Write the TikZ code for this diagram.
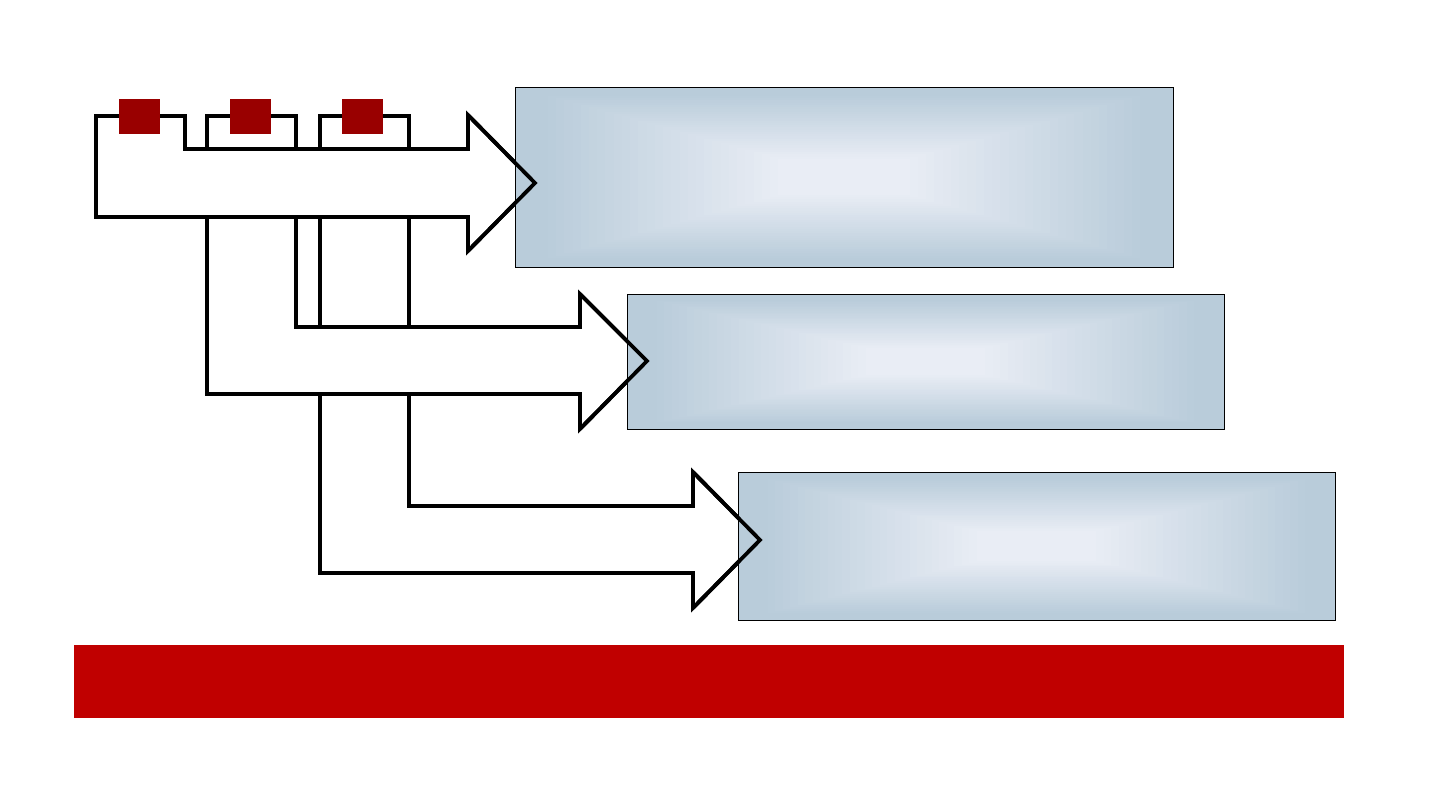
\documentclass[tikz,border=0pt]{standalone}
\usetikzlibrary{calc}
\definecolor{boxout}{RGB}{185,204,218}
\definecolor{boxin}{RGB}{233,237,245}
\definecolor{sqred}{RGB}{153,0,0}
\definecolor{barred}{RGB}{192,0,0}
\tikzset{
  bendarrow/.style={draw=black, line width=3.8pt, fill=white, miter limit=10},
  headline/.style={draw=black, line width=3.8pt, miter limit=10},
  panel/.style={draw=black, line width=0.8pt, fill=boxout, rectangle, inner sep=0pt, outer sep=0pt},
  tag/.style={fill=sqred, rectangle, inner sep=0pt, outer sep=0pt, minimum width=41pt, minimum height=35pt},
  band/.style={fill=barred, rectangle, inner sep=0pt, outer sep=0pt},
}
\newcommand{\glowpanel}[1]{%
  \foreach \i in {1,...,40}{%
    \pgfmathsetmacro{\s}{\i/40}%
    \pgfmathsetmacro{\p}{min(100,max(0,(\s-0.08)/0.72*100))}%
    \colorlet{glowcur}{boxin!\p!boxout}%
    \fill[glowcur] ($(#1.north west)!\s*0.5!(#1.south east)$) rectangle ($(#1.south east)!\s*0.5!(#1.north west)$);
  }%
  \draw[line width=0.8pt] (#1.north west) rectangle (#1.south east);
}
\begin{document}
\begin{tikzpicture}[x=1pt,y=-1pt]
\useasboundingbox (0,0) rectangle (1440,810);
% bent arrows, back to front
\draw[bendarrow] (320,116) -- (409,116) -- (409,506) -- (693,506) -- (693,472) -- (760,540) -- (693,608) -- (693,573) -- (320,573) -- cycle;
\draw[bendarrow] (207,116) -- (296,116) -- (296,327) -- (580,327) -- (580,294) -- (647,361) -- (580,429) -- (580,394) -- (207,394) -- cycle;
\draw[bendarrow] (96,116) -- (185,116) -- (185,149) -- (468,149) -- (468,115) -- (535,183) -- (468,251) -- (468,217) -- (96,217) -- cycle;
% panels
\node[panel, minimum width=658pt, minimum height=180pt] (box1) at (844,177) {};
\node[panel, minimum width=597pt, minimum height=135pt] (box2) at (925.5,361.5) {};
\node[panel, minimum width=597pt, minimum height=148pt] (box3) at (1036.5,546) {};
\glowpanel{box1}
\glowpanel{box2}
\glowpanel{box3}
% arrow heads over panels
\draw[headline] (468,115) -- (535,183) -- (468,251);
\draw[headline] (580,294) -- (647,361) -- (580,429);
\draw[headline] (693,472) -- (760,540) -- (693,608);
% tags
\node[tag] (t1) at (139.5,116.5) {};
\node[tag] (t2) at (250.5,116.5) {};
\node[tag] (t3) at (362.5,116.5) {};
% bottom band
\node[band, minimum width=1270pt, minimum height=73pt] (bar) at (709,681.5) {};
\end{tikzpicture}
\end{document}
